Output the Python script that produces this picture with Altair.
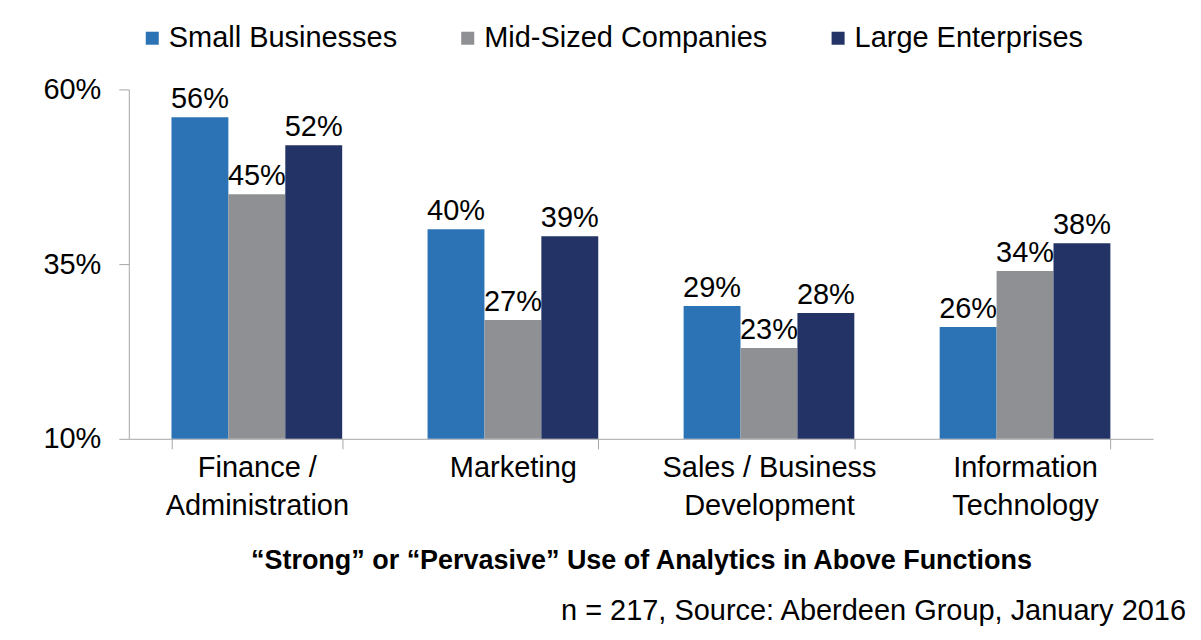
import altair as alt
import pandas as pd

categories = ["Finance /|Administration", "Marketing", "Sales / Business|Development", "Information|Technology"]
series = ["Small Businesses", "Mid-Sized Companies", "Large Enterprises"]
small = [56, 40, 29, 26]
mid = [45, 27, 23, 34]
large = [52, 39, 28, 38]
colors = ["#2C73B6", "#8F9093", "#243366"]

rows = []
for s, vals in zip(series, [small, mid, large]):
    for c, v in zip(categories, vals):
        rows.append({"category": c, "series": s, "value": v, "label": f"{v}%"})
df = pd.DataFrame(rows)

FONT = "Liberation Sans"

base = alt.Chart(df).encode(
    x=alt.X("category:N", sort=categories,
            scale=alt.Scale(paddingInner=1/3, paddingOuter=1/6),
            axis=alt.Axis(title="\u201cStrong\u201d or \u201cPervasive\u201d Use of Analytics in Above Functions",
                          titleFont=FONT, titleFontSize=27, titleFontWeight="bold", titleColor="black",
                          titlePadding=27,
                          labelExpr="split(datum.label, '|')", labelFont=FONT, labelFontSize=29,
                          labelLineHeight=38, labelBaseline="top", labelPadding=5, labelColor="black",
                          labelAngle=0, tickBand="extent", tickSize=10, tickColor="#A6A6A6",
                          domainColor="#A6A6A6", labelLimit=400)),
    xOffset=alt.XOffset("series:N", sort=series),
)

bars = base.mark_bar().encode(
    y=alt.Y("value:Q", scale=alt.Scale(domain=[10, 60]),
            axis=alt.Axis(values=[10, 35, 60], labelExpr="datum.value + '%'", title=None,
                          grid=False, labelFont=FONT, labelFontSize=29, labelColor="black",
                          tickSize=10, tickColor="#A6A6A6", domainColor="#A6A6A6", labelPadding=18)),
    y2=alt.datum(10),
    color=alt.Color("series:N", sort=series, scale=alt.Scale(domain=series, range=colors),
                    legend=alt.Legend(title=None, orient="none", direction="horizontal",
                                      legendX=9, legendY=-66, symbolType="square", symbolSize=170,
                                      symbolStrokeWidth=0, labelFont=FONT, labelFontSize=29,
                                      labelColor="black", columnPadding=56, labelOffset=2,
                                      labelLimit=400)),
)

labels = base.mark_text(font=FONT, fontSize=29, baseline="alphabetic", dy=-9, color="black").encode(
    y="value:Q",
    text="label:N",
)

chart = alt.layer(bars, labels).properties(
    width=1026, height=350,
    autosize=alt.AutoSizeParams(type="none"),
    padding={"left": 121, "top": 81, "right": 40, "bottom": 198},
    title=alt.TitleParams("n = 217, Source: Aberdeen Group, January 2016", orient="bottom",
                          anchor="end", font=FONT, fontSize=29, fontWeight="normal",
                          color="black", dx=33, offset=24),
).configure_view(stroke=None)

chart.save("out.html", embed_options={"renderer": "svg", "actions": False})
